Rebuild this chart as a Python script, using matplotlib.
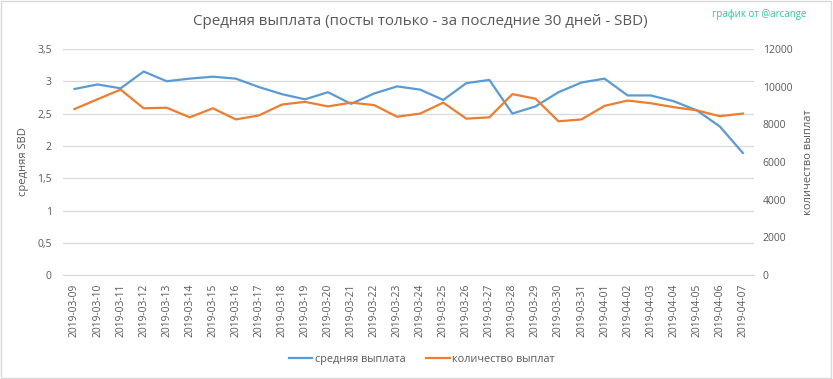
import matplotlib
matplotlib.use("Agg")
import matplotlib.pyplot as plt
from matplotlib.lines import Line2D

# --- DATA ---
dates = ["2019-03-09", "2019-03-10", "2019-03-11", "2019-03-12", "2019-03-13", "2019-03-14",
         "2019-03-15", "2019-03-16", "2019-03-17", "2019-03-18", "2019-03-19", "2019-03-20",
         "2019-03-21", "2019-03-22", "2019-03-23", "2019-03-24", "2019-03-25", "2019-03-26",
         "2019-03-27", "2019-03-28", "2019-03-29", "2019-03-30", "2019-03-31", "2019-04-01",
         "2019-04-02", "2019-04-03", "2019-04-04", "2019-04-05", "2019-04-06", "2019-04-07"]
avg_payout = [2.88, 2.95, 2.89, 3.15, 3.00, 3.04, 3.07, 3.04, 2.91, 2.80, 2.72, 2.83,
              2.65, 2.81, 2.92, 2.87, 2.71, 2.97, 3.02, 2.50, 2.61, 2.83, 2.98, 3.04,
              2.78, 2.78, 2.69, 2.55, 2.30, 1.89]
payout_count = [8810, 9330, 9840, 8850, 8880, 8370, 8850, 8260, 8470, 9050, 9190, 8950,
                9150, 9020, 8400, 8570, 9150, 8300, 8370, 9600, 9360, 8160, 8260, 8980,
                9260, 9120, 8910, 8740, 8430, 8570]
left_ticks = [0, 0.5, 1, 1.5, 2, 2.5, 3, 3.5]
left_labels = ["0", "0,5", "1", "1,5", "2", "2,5", "3", "3,5"]
right_ticks = [0, 2000, 4000, 6000, 8000, 10000, 12000]

# --- STYLE ---
BLUE = "#5B9BD5"
ORANGE = "#ED7D31"
GRID = "#D9D9D9"
TEXT = "#595959"
plt.rcParams["font.family"] = ["Open Sans", "DejaVu Sans"]

fig = plt.figure(figsize=(8.33, 3.79), dpi=100)
ax = fig.add_axes([0.0756, 0.274, 0.830, 0.597])
ax2 = ax.twinx()

x = list(range(len(dates)))
ax.plot(x, avg_payout, color=BLUE, lw=1.6, zorder=3)
ax2.plot(x, payout_count, color=ORANGE, lw=1.6, zorder=3)

ax.set_xlim(-0.5, len(dates) - 0.5)
ax.set_ylim(0, 3.5)
ax2.set_ylim(0, 12000)
ax.set_yticks(left_ticks)
ax.set_yticklabels(left_labels)
ax2.set_yticks(right_ticks)
ax.set_xticks(x)
ax.set_xticklabels(dates, rotation=90)

ax.grid(axis="y", color=GRID, lw=0.9)
ax.set_axisbelow(True)
for a in (ax, ax2):
    for s in a.spines.values():
        s.set_visible(False)
    a.tick_params(length=0, colors=TEXT, labelsize=7.5)
ax.spines["bottom"].set_visible(True)
ax.spines["bottom"].set_color(GRID)
ax.tick_params(axis="x", pad=6, labelsize=7.4)
ax.tick_params(axis="y", pad=8)
ax2.tick_params(axis="y", pad=6)

ax.set_ylabel("средняя SBD", color=TEXT, fontsize=8, labelpad=6)
ax2.set_ylabel("количество выплат", color=TEXT, fontsize=8, labelpad=8)

fig.text(0.505, 0.942, "Средняя выплата (посты только - за последние 30 дней - SBD)",
         ha="center", va="center", fontsize=10.9, color=TEXT)
fig.text(0.855, 0.962, "график от @arcange", ha="left", va="center",
         fontsize=7, color="#33C3A5")

handles = [Line2D([], [], color=BLUE, lw=1.6), Line2D([], [], color=ORANGE, lw=1.6)]
fig.legend(handles, ["средняя выплата", "количество выплат"], loc="center",
           bbox_to_anchor=(0.506, 0.052), ncol=2, frameon=False, fontsize=7.8,
           labelcolor=TEXT, handlelength=2.2, handletextpad=0.2, columnspacing=1.9)

# border like the Excel chart frame
fig.patches.append(plt.Rectangle((0.001, 0.003), 0.997, 0.994, transform=fig.transFigure,
                                 fill=False, edgecolor="#D9D9D9", lw=1))

fig.savefig("out.png", dpi=100)
